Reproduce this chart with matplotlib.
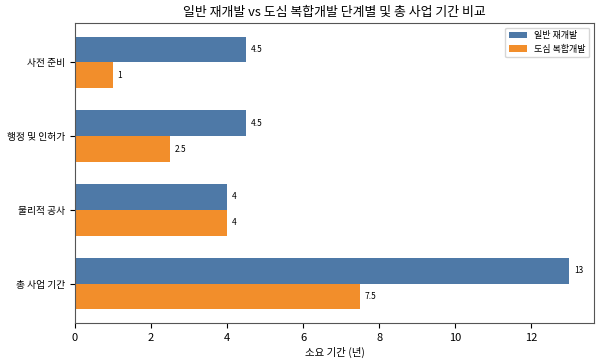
import matplotlib
matplotlib.use("Agg")
import matplotlib.pyplot as plt
import numpy as np

plt.rcParams['font.family'] = ['Noto Sans CJK KR', 'DejaVu Sans']

categories = ['사전 준비', '행정 및 인허가', '물리적 공사', '총 사업 기간']
general = [4.5, 4.5, 4, 13]
urban = [1, 2.5, 4, 7.5]
labels = ['일반 재개발', '도심 복합개발']
colors = ['#4e79a7', '#f28e2b']

fig, ax = plt.subplots(figsize=(6, 3.6), dpi=100)
y = np.arange(len(categories))
h = 0.35
b1 = ax.barh(y - h/2, general, h, color=colors[0], label=labels[0])
b2 = ax.barh(y + h/2, urban, h, color=colors[1], label=labels[1])
for bars, vals in ((b1, general), (b2, urban)):
    for bar, v in zip(bars, vals):
        ax.text(bar.get_width() + 0.12, bar.get_y() + bar.get_height()/2,
                f'{v:g}', va='center', ha='left', fontsize=6)
ax.set_yticks(y)
ax.set_yticklabels(categories, fontsize=7)
ax.invert_yaxis()
ax.tick_params(axis='x', labelsize=8)
ax.set_xlabel('소요 기간 (년)', fontsize=7.5, labelpad=3)
ax.set_title('일반 재개발 vs 도심 복합개발 단계별 및 총 사업 기간 비교', fontsize=9.3, pad=5)
ax.legend(fontsize=6.5, loc='upper right')
for s in ax.spines.values():
    s.set_color('#555555')
fig.subplots_adjust(left=0.125, right=0.99, top=0.936, bottom=0.103)
fig.savefig('out.png')
